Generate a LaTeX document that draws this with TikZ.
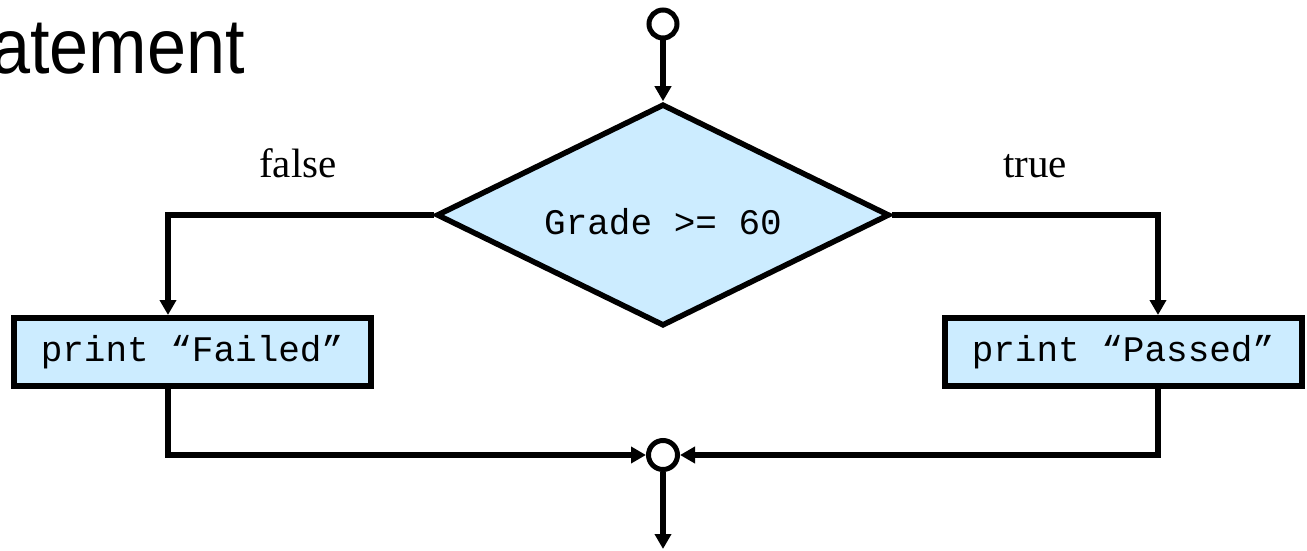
\documentclass[tikz,border=0pt]{standalone}
\usepackage{fontspec}
\setmainfont{Liberation Serif}
\setsansfont{Liberation Sans}
\setmonofont{Liberation Mono}
\usetikzlibrary{shapes.geometric,arrows.meta}
\definecolor{boxfill}{HTML}{CCECFF}
\tikzset{
  flow/.style={line width=5.5pt, -{Triangle[length=15pt,width=16pt]}},
  junction/.style={circle, draw, line width=5pt, fill=white, inner sep=0pt, minimum size=28pt},
  decision/.style={diamond, draw, line width=5.5pt, fill=boxfill, inner sep=0pt,
    shape aspect=2.04, minimum width=453pt, minimum height=222pt},
  action/.style={rectangle, draw, line width=6pt, fill=boxfill, inner sep=0pt,
    minimum width=357pt, minimum height=68pt, font=\fontsize{36}{40}\selectfont\ttfamily},
  codetext/.style={font=\fontsize{36}{40}\selectfont\ttfamily, inner sep=0pt},
  branch/.style={font=\fontsize{41}{46}\selectfont\rmfamily, anchor=base}
}
\begin{document}
\begin{tikzpicture}[x=1pt, y=-1pt]
  \useasboundingbox (0,0) rectangle (1307,551);
  \node[font=\fontsize{78}{86}\selectfont\sffamily, anchor=base east, inner sep=0pt,
        xscale=0.9, transform shape] (title) at (245,74) {atement};

  \node[junction] (start) at (663,24) {};
  \node[decision] (cond) at (663,215) {};
  \node[codetext] (condtext) at (663,222) {Grade >= 60};
  \node[action] (fail) at (192,352) {print “Failed”};
  \node[action] (pass) at (1123,352) {print “Passed”};
  \node[junction, minimum size=29pt] (merge) at (663,455) {};
  \coordinate (exit) at (663,549);

  \node[branch] (lfalse) at (298,177) {false};
  \node[branch] (ltrue) at (1035,177) {true};

  \draw[flow] (start) -- (cond.north);
  \draw[flow] (cond.west) -| ([xshift=-24pt]fail.north);
  \draw[flow] (cond.east) -| ([xshift=35pt]pass.north);
  \draw[flow] ([xshift=-24pt]fail.south) |- (merge.west);
  \draw[flow] ([xshift=35pt]pass.south) |- (merge.east);
  \draw[flow] (merge) -- (exit);
\end{tikzpicture}
\end{document}
